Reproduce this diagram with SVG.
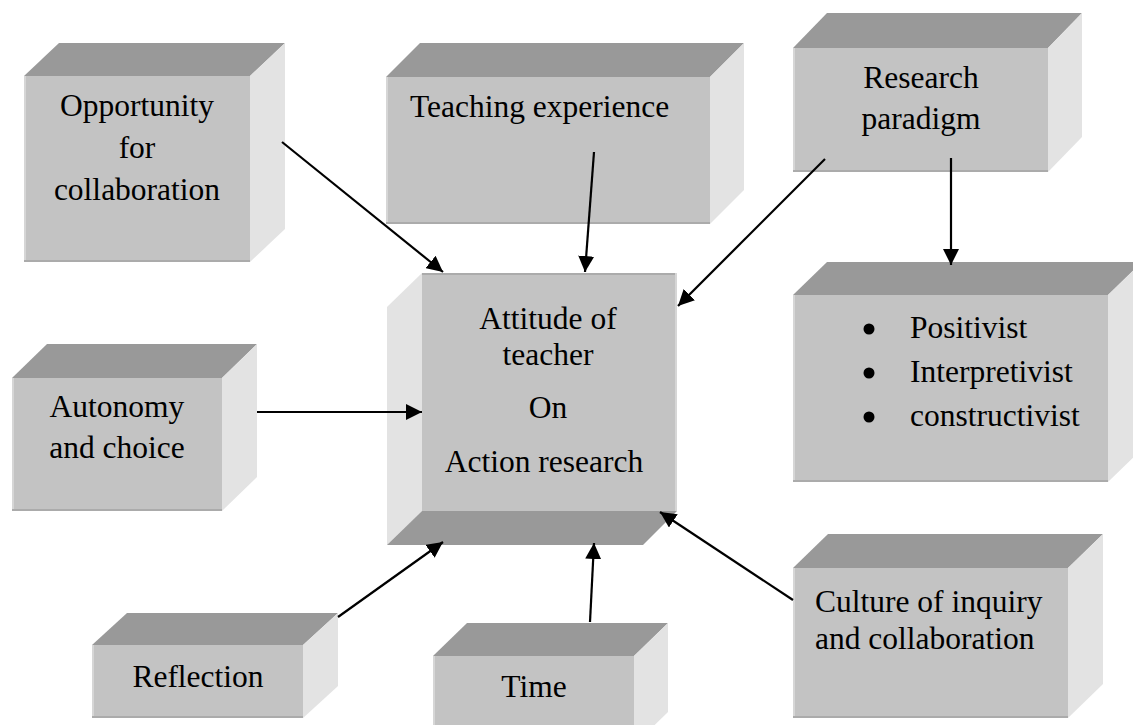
<svg xmlns="http://www.w3.org/2000/svg" width="1133" height="725" viewBox="0 0 1133 725" font-family="'Liberation Serif', 'Times New Roman', serif">
  <style>
    .front { fill: #c3c3c3; }
    .top { fill: #999999; }
    .side { fill: #e3e3e3; }
    .edge-dark { stroke: #ababab; stroke-width: 2; }
    .edge-light { stroke: #d6d6d6; stroke-width: 2; }
    .lbl { font-family: "Liberation Serif", "Times New Roman", serif; font-size: 31.5px; fill: #000; }
    .mid { text-anchor: middle; }
    .conn line { stroke: #000; stroke-width: 2.2; marker-end: url(#head); }
  </style>
  <defs>
    <marker id="head" markerUnits="userSpaceOnUse" markerWidth="18" markerHeight="16" refX="16" refY="8" orient="auto">
      <path d="M0,0 L16,8 L0,16 Z" fill="#000"/>
    </marker>
  </defs>

  <rect width="1133" height="725" fill="#ffffff"/>

  <!-- Opportunity for collaboration -->
  <g id="node-opportunity">
    <polygon class="top" points="24,76 59,43 285,43 250,76"/>
    <polygon class="side" points="250,76 285,43 285,229 250,262"/>
    <rect class="front" x="24" y="76" width="226" height="186"/>
    <line class="edge-light" x1="25" y1="76" x2="25" y2="262"/>
    <line class="edge-dark" x1="24" y1="261" x2="250" y2="261"/>
    <text class="lbl mid" x="137" y="116">Opportunity</text>
    <text class="lbl mid" x="137" y="158">for</text>
    <text class="lbl mid" x="137" y="200">collaboration</text>
  </g>

  <!-- Teaching experience -->
  <g id="node-teaching">
    <polygon class="top" points="386,77 420,43 744,43 710,77"/>
    <polygon class="side" points="710,77 744,43 744,190 710,224"/>
    <rect class="front" x="386" y="77" width="324" height="147"/>
    <line class="edge-light" x1="387" y1="77" x2="387" y2="224"/>
    <line class="edge-dark" x1="386" y1="223" x2="710" y2="223"/>
    <text class="lbl" x="410" y="117">Teaching experience</text>
  </g>

  <!-- Research paradigm -->
  <g id="node-paradigm">
    <polygon class="top" points="793,48 827,13 1082,13 1048,48"/>
    <polygon class="side" points="1048,48 1082,13 1082,137 1048,172"/>
    <rect class="front" x="793" y="48" width="255" height="124"/>
    <line class="edge-light" x1="794" y1="48" x2="794" y2="172"/>
    <line class="edge-dark" x1="793" y1="171" x2="1048" y2="171"/>
    <text class="lbl mid" x="921" y="88">Research</text>
    <text class="lbl mid" x="921" y="129">paradigm</text>
  </g>

  <!-- Paradigm list -->
  <g id="node-paradigm-list">
    <polygon class="top" points="793,295 827,262 1142,262 1108,295"/>
    <polygon class="side" points="1108,295 1142,262 1142,449 1108,482"/>
    <rect class="front" x="793" y="295" width="315" height="187"/>
    <line class="edge-light" x1="794" y1="295" x2="794" y2="482"/>
    <line class="edge-dark" x1="793" y1="481" x2="1108" y2="481"/>
    <circle cx="869" cy="329" r="5.5" fill="#000"/>
    <circle cx="869" cy="373" r="5.5" fill="#000"/>
    <circle cx="869" cy="417" r="5.5" fill="#000"/>
    <text class="lbl" x="910" y="338">Positivist</text>
    <text class="lbl" x="910" y="382">Interpretivist</text>
    <text class="lbl" x="910" y="426">constructivist</text>
  </g>

  <!-- Autonomy and choice -->
  <g id="node-autonomy">
    <polygon class="top" points="12,378 47,344 257,344 222,378"/>
    <polygon class="side" points="222,378 257,344 257,477 222,511"/>
    <rect class="front" x="12" y="378" width="210" height="133"/>
    <line class="edge-light" x1="13" y1="378" x2="13" y2="511"/>
    <line class="edge-dark" x1="12" y1="510" x2="222" y2="510"/>
    <text class="lbl mid" x="117" y="417">Autonomy</text>
    <text class="lbl mid" x="117" y="458">and choice</text>
  </g>

  <!-- Attitude of teacher on action research (extruded down-left) -->
  <g id="node-attitude">
    <polygon class="side" points="422,273 387,307 387,545 422,511"/>
    <polygon class="top" points="422,511 677,511 643,545 387,545"/>
    <rect class="front" x="422" y="273" width="255" height="238"/>
    <line class="edge-dark" x1="422" y1="274" x2="677" y2="274"/>
    <line class="edge-light" x1="676" y1="273" x2="676" y2="511"/>
    <text class="lbl mid" x="548" y="329">Attitude of</text>
    <text class="lbl mid" x="548" y="365">teacher</text>
    <text class="lbl mid" x="548" y="418">On</text>
    <text class="lbl mid" x="544" y="472">Action research</text>
  </g>

  <!-- Reflection -->
  <g id="node-reflection">
    <polygon class="top" points="92,645 127,613 338,613 303,645"/>
    <polygon class="side" points="303,645 338,613 338,686 303,718"/>
    <rect class="front" x="92" y="645" width="211" height="73"/>
    <line class="edge-light" x1="93" y1="645" x2="93" y2="718"/>
    <line class="edge-dark" x1="92" y1="717" x2="303" y2="717"/>
    <text class="lbl mid" x="198" y="687">Reflection</text>
  </g>

  <!-- Time -->
  <g id="node-time">
    <polygon class="top" points="433,656 467,623 668,623 634,656"/>
    <polygon class="side" points="634,656 668,623 668,712 634,745"/>
    <rect class="front" x="433" y="656" width="201" height="89"/>
    <line class="edge-light" x1="434" y1="656" x2="434" y2="745"/>
    <text class="lbl mid" x="534" y="697">Time</text>
  </g>

  <!-- Culture of inquiry and collaboration -->
  <g id="node-culture">
    <polygon class="top" points="793,568 828,534 1103,534 1068,568"/>
    <polygon class="side" points="1068,568 1103,534 1103,684 1068,718"/>
    <rect class="front" x="793" y="568" width="275" height="150"/>
    <line class="edge-light" x1="794" y1="568" x2="794" y2="718"/>
    <line class="edge-dark" x1="793" y1="717" x2="1068" y2="717"/>
    <text class="lbl" x="815" y="612">Culture of inquiry</text>
    <text class="lbl" x="815" y="649">and collaboration</text>
  </g>

  <!-- Connectors -->
  <g id="connectors" class="conn">
    <line x1="282" y1="142" x2="443" y2="272"/>
    <line x1="594" y1="152" x2="585" y2="272"/>
    <line x1="825" y1="159" x2="678" y2="306"/>
    <line x1="951" y1="158" x2="951" y2="265"/>
    <line x1="257" y1="412" x2="422" y2="412"/>
    <line x1="338" y1="617" x2="443" y2="542"/>
    <line x1="590" y1="622" x2="594" y2="543"/>
    <line x1="793" y1="600" x2="660" y2="512"/>
  </g>
</svg>
